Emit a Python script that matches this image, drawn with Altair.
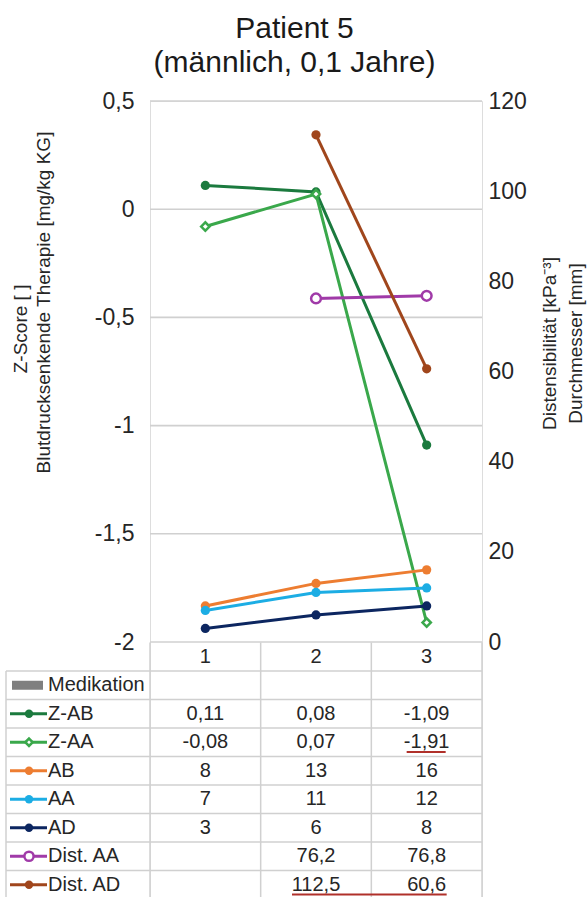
import altair as alt
import pandas as pd

# ---------------- data ----------------
zeit = [1, 2, 3]
z_ab = [0.11, 0.08, -1.09]
z_aa = [-0.08, 0.07, -1.91]
ab = [8, 13, 16]
aa = [7, 11, 12]
ad = [3, 6, 8]
dist_aa = [None, 76.2, 76.8]
dist_ad = [None, 112.5, 60.6]

series_names = ["Z-AB", "Z-AA", "AB", "AA", "AD", "Dist. AA", "Dist. AD"]
series_values = [z_ab, z_aa, ab, aa, ad, dist_aa, dist_ad]
series_side = ["left", "left", "right", "right", "right", "right", "right"]
series_colors = ["#1b7a3e", "#3aa84b", "#ed7d31", "#1cade4", "#0c2660", "#a03aa8", "#a0461c"]
series_shapes = ["circle", "diamond", "circle", "circle", "circle", "circle", "circle"]
series_filled = [True, False, True, True, True, False, True]
medikation_label = "Medikation"
medikation_color = "#7f7f7f"

left_ticks = [-2, -1.5, -1, -0.5, 0, 0.5]
right_ticks = [0, 20, 40, 60, 80, 100, 120]

title_lines = ["Patient 5", "(männlich, 0,1 Jahre)"]
left_title = ["Z-Score [ ]", "Blutdrucksenkende Therapie [mg/kg KG]"]
right_title = ["Distensibilität [kPa\u207b\u00b3]", "Durchmesser [mm]"]

# spell-check underlines seen in the table: (series, from Zeit, to Zeit)
underlines = [("Z-AA", 3, 3), ("Dist. AD", 2, 3)]

# ---------------- layout / style ----------------
FONT = "Liberation Sans"
TXT = "#262626"
GRID = "#d0d0d0"
W, H = 332, 796
PLOT_H = 541
ROW_H = 28.5
N_ROWS = 9
TABLE_TOP = 541.5
STEP = W / len(zeit)
LEG_LEFT = -144
NB = "\u00a0"
ZW = "\u200b"

xs = alt.Scale(type="point", domain=zeit, padding=0.5)
X = alt.X("Zeit:O", scale=xs, axis=None)

left_scale = alt.Scale(domain=[-2, 0.5], range=[PLOT_H, 0], nice=False, zero=False)
right_scale = alt.Scale(domain=[0, 120], range=[PLOT_H, 0], nice=False, zero=False)
ts = alt.Scale(domain=[0, N_ROWS], range=[TABLE_TOP, TABLE_TOP + N_ROWS * ROW_H], nice=False, zero=False)

left_axis = alt.Axis(
    orient="left", values=left_ticks,
    labelExpr="replace(toString(datum.value), '.', ',')",
    grid=False, domain=False, ticks=False,
    labelPadding=16, labelFontSize=23, labelFont=FONT, labelColor=TXT,
    title=[left_title[0] + NB * 10 + ZW, left_title[1]],
    titleFont=FONT, titleFontSize=19, titleFontWeight="normal", titleColor=TXT,
    titleAngle=270, titleBaseline="middle", titleAlign="center",
    titleLineHeight=23, titleX=-130, titleY=201,
)
right_axis = alt.Axis(
    orient="right", values=right_ticks, format="d",
    grid=False, domain=False, ticks=False,
    labelPadding=6, labelFontSize=23, labelFont=FONT, labelColor=TXT,
    title=right_title,
    titleFont=FONT, titleFontSize=19, titleFontWeight="normal", titleColor=TXT,
    titleAngle=270, titleBaseline="middle", titleAlign="center",
    titleLineHeight=26, titleX=67, titleY=242,
)


def fmt(v):
    return ("%g" % v).replace(".", ",")


layers = []

# ---------------- gridlines at the left-axis ticks ----------------
layers.append(
    alt.Chart(pd.DataFrame({"Tick": left_ticks}))
    .mark_rule(color=GRID, strokeWidth=1.6)
    .encode(x=alt.value(0), x2=alt.value(W), y=alt.Y("Tick:Q", scale=left_scale, axis=None))
)

# ---------------- data table ----------------
Yt = alt.Y("Zeile:Q", scale=ts, axis=None)

hdr_df = pd.DataFrame({"Zeit": zeit, "Zeile": [0.5] * len(zeit), "Text": [str(z) for z in zeit]})
val_rows = []
for i, vals in enumerate(series_values):
    for z, v in zip(zeit, vals):
        if v is None:
            continue
        val_rows.append({"Zeit": z, "Zeile": 2 + i + 0.5, "Text": fmt(v)})
val_df = pd.DataFrame(val_rows)
leg_df = pd.DataFrame({"Zeile": [1.5 + k for k in range(len(series_names) + 1)],
                       "Text": [medikation_label] + series_names})

text_style = dict(fontSize=20, font=FONT, color=TXT, baseline="middle")

layers.append(
    alt.Chart(pd.DataFrame({"Zeile": list(range(1, N_ROWS + 1))}))
    .mark_rule(color=GRID, strokeWidth=1.5)
    .encode(x=alt.value(LEG_LEFT), x2=alt.value(W), y=Yt)
)
vdf = pd.DataFrame({"Zeit": zeit, "y0": [0] * len(zeit), "y1": [N_ROWS] * len(zeit)})
layers.append(
    alt.Chart(vdf).mark_rule(color=GRID, strokeWidth=1.5, xOffset=-STEP / 2)
    .encode(x=X, y=alt.Y("y0:Q", scale=ts, axis=None), y2="y1:Q")
)
layers.append(
    alt.Chart(vdf.tail(1)).mark_rule(color=GRID, strokeWidth=1.5, xOffset=STEP / 2)
    .encode(x=X, y=alt.Y("y0:Q", scale=ts, axis=None), y2="y1:Q")
)
layers.append(
    alt.Chart(pd.DataFrame({"y0": [1], "y1": [N_ROWS]}))
    .mark_rule(color=GRID, strokeWidth=1.5)
    .encode(x=alt.value(LEG_LEFT), y=alt.Y("y0:Q", scale=ts, axis=None), y2="y1:Q")
)
layers.append(alt.Chart(hdr_df).mark_text(align="center", **text_style)
              .encode(x=X, y=Yt, text="Text:N"))
layers.append(alt.Chart(val_df).mark_text(align="center", **text_style)
              .encode(x=X, y=Yt, text="Text:N"))
layers.append(alt.Chart(leg_df).mark_text(align="left", **text_style)
              .encode(x=alt.value(-102), y=Yt, text="Text:N"))
layers.append(
    alt.Chart(pd.DataFrame({"Zeile": [1.5]}))
    .mark_rule(color=medikation_color, strokeWidth=9, strokeCap="butt")
    .encode(x=alt.value(-138), x2=alt.value(-107), y=Yt)
)
for i, (col, shp, fil) in enumerate(zip(series_colors, series_shapes, series_filled)):
    kdf = pd.DataFrame({"Zeile": [2 + i + 0.5]})
    layers.append(alt.Chart(kdf).mark_rule(color=col, strokeWidth=3)
                  .encode(x=alt.value(-140), x2=alt.value(-103), y=Yt))
    if fil:
        pt = alt.Chart(kdf).mark_point(shape=shp, filled=True, color=col, size=70, opacity=1)
    else:
        pt = alt.Chart(kdf).mark_point(shape=shp, filled=True, fill="white", stroke=col,
                                       strokeWidth=2.5, size=55 if shp == "diamond" else 85,
                                       opacity=1)
    layers.append(pt.encode(x=alt.value(-121), y=Yt))
for (sname, z0, z1), off in zip(underlines, [(-20, 19), (-24, 20)]):
    row = 2 + series_names.index(sname)
    udf = pd.DataFrame({"Zeit": [z0], "Zeit2": [z1], "Zeile": [row + 0.84]})
    layers.append(
        alt.Chart(udf).mark_rule(color="#b0302a", strokeWidth=2, xOffset=off[0], x2Offset=off[1])
        .encode(x=X, x2="Zeit2:O", y=Yt)
    )

# ---------------- series ----------------
axis_done = {"left": False, "right": False}
for name, vals, s, col, shp, fil in zip(series_names, series_values, series_side,
                                         series_colors, series_shapes, series_filled):
    df = pd.DataFrame({"Zeit": zeit, "Wert": vals}).dropna()
    yscale = left_scale if s == "left" else right_scale
    line_axis = None
    if not axis_done[s]:
        line_axis = left_axis if s == "left" else right_axis
        axis_done[s] = True
    layers.append(alt.Chart(df).mark_line(color=col, strokeWidth=3)
                  .encode(x=X, y=alt.Y("Wert:Q", scale=yscale, axis=line_axis)))
    if fil:
        pm = alt.Chart(df).mark_point(shape=shp, filled=True, color=col, size=85, opacity=1)
    else:
        pm = alt.Chart(df).mark_point(shape=shp, filled=True, fill="white", stroke=col,
                                      strokeWidth=2.5, size=70 if shp == "diamond" else 95,
                                      opacity=1)
    layers.append(pm.encode(x=X, y=alt.Y("Wert:Q", scale=yscale, axis=None)))

chart = (
    alt.layer(*layers)
    .resolve_scale(y="independent")
    .properties(
        width=W, height=H,
        title=alt.TitleParams(
            text=title_lines, fontSize=30, font=FONT, fontWeight="normal", color="#1a1a1a",
            anchor="middle", dx=-21.5, lineHeight=34, offset=12,
        ),
        autosize=alt.AutoSizeParams(type="none"),
        padding={"left": 150, "top": 101, "right": 106, "bottom": 0},
    )
    .configure_view(stroke="transparent", strokeWidth=0)
    .configure(font=FONT, background="white")
)

chart.save("out.html", embed_options={"renderer": "svg", "actions": False})
